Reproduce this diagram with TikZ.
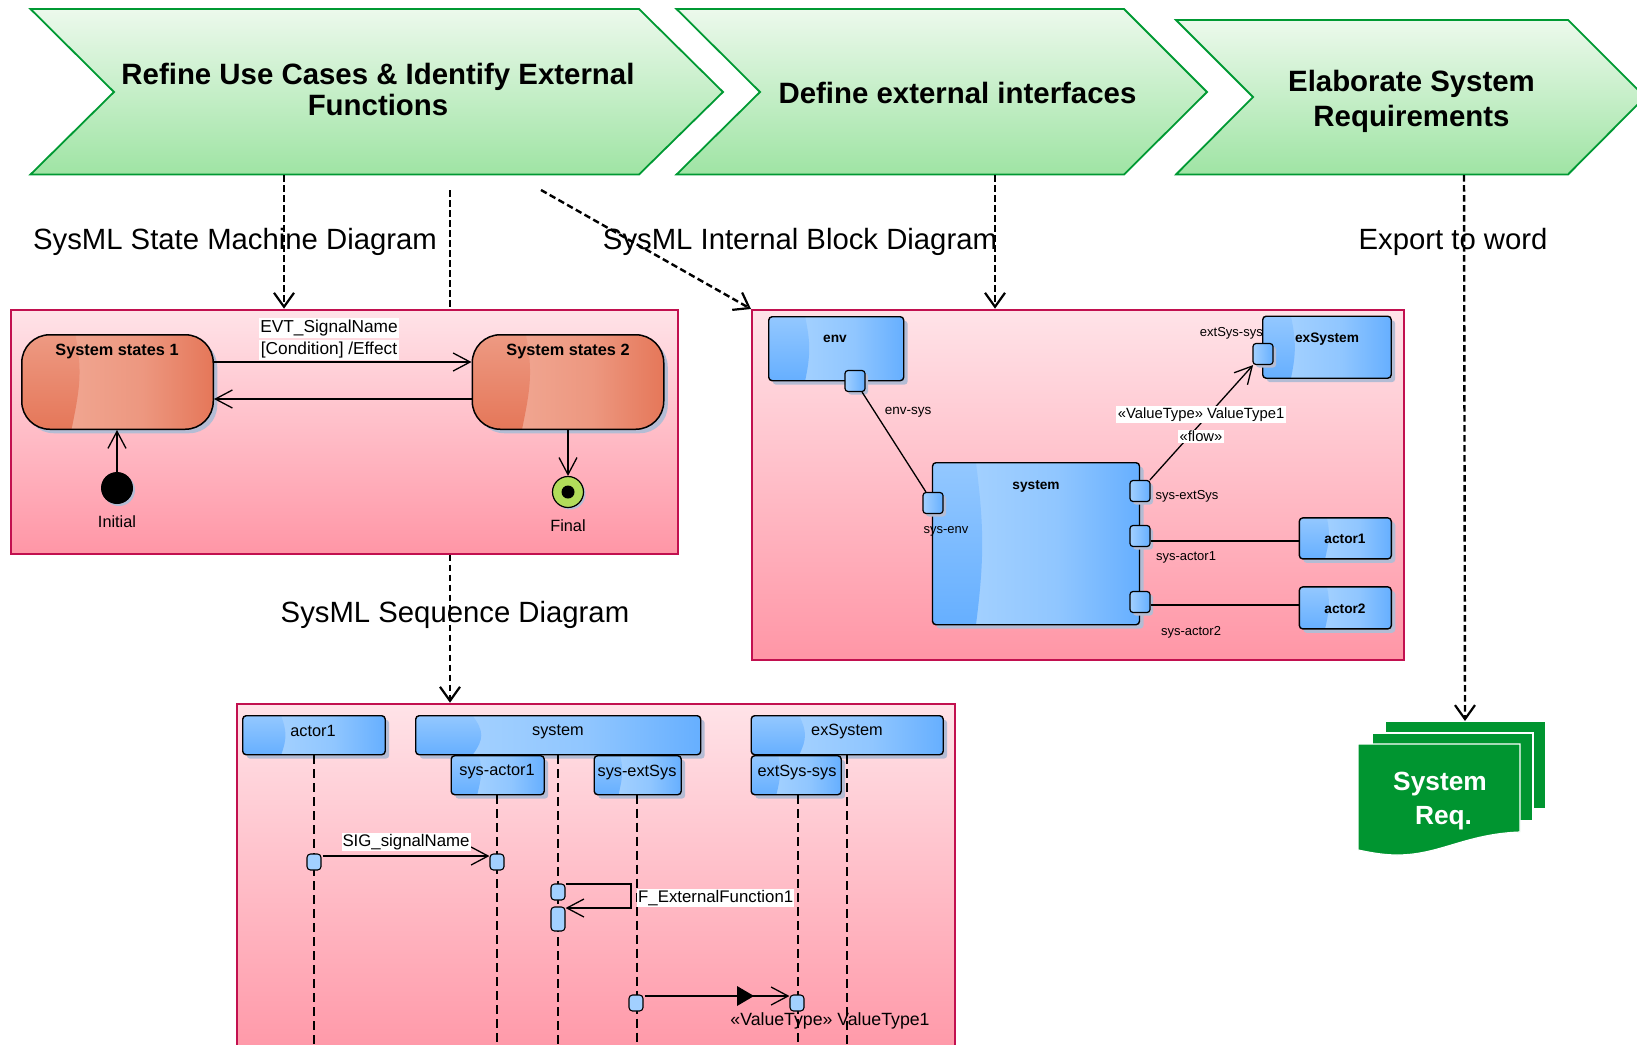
\documentclass[tikz,border=0pt]{standalone}
\usepackage{fontspec}
\setmainfont{Liberation Sans}
\usetikzlibrary{calc,shadows,arrows.meta}
\definecolor{chevtop}{HTML}{ECF9EC}
\definecolor{chevbot}{HTML}{9FE4A4}
\definecolor{chevline}{HTML}{009933}
\definecolor{frametop}{HTML}{FFE3E8}
\definecolor{framebot}{HTML}{FF96A6}
\definecolor{frameline}{HTML}{C2104F}
\definecolor{bluelight}{HTML}{A2D0FF}
\definecolor{bluedark}{HTML}{66AFFF}
\definecolor{orlight}{HTML}{F0A590}
\definecolor{ordark}{HTML}{E57759}
\definecolor{shadowc}{HTML}{B4BCD4}
\definecolor{docgreen}{HTML}{009530}
\definecolor{finalgreen}{HTML}{B2DC5A}
\tikzset{
  px/.style={x=1pt,y=-1pt},
  chevron/.style={draw=chevline,line width=1.8pt,top color=chevtop,bottom color=chevbot,line join=miter},
  chevtext/.style={font=\fontsize{29.4}{30.5}\selectfont\bfseries,align=center,inner sep=0pt},
  headline/.style={font=\fontsize{29.3}{34}\selectfont,inner sep=0pt,yshift=-3pt},
  dashconn/.style={line width=2.4pt,dash pattern=on 6.5pt off 3.5pt,-{Straight Barb[length=14pt,width=20pt,line width=2.2pt]}},
  dashplain/.style={line width=2.4pt,dash pattern=on 6.5pt off 3.5pt},
  frame/.style={draw=frameline,line width=2pt,top color=frametop,bottom color=framebot,anchor=north west,inner sep=0pt},
  gloss/.style n args={4}{path picture={
    \coordinate (nw) at (path picture bounding box.north west);
    \coordinate (ne) at (path picture bounding box.north east);
    \coordinate (sw) at (path picture bounding box.south west);
    \coordinate (se) at (path picture bounding box.south east);
    \shade[sharp corners,left color=#3,right color=#4,middle color=#3!70!#4] ($(sw)!#2!(se)$) rectangle (ne);
    \shade[sharp corners,top color=#3!75!#4,bottom color=#4] (nw) -- ($(nw)!#1!(ne)$)
       .. controls ($(nw)!.4!(sw)+($(nw)!#1+.04!(ne)-(nw)$)$) and ($(nw)!.6!(sw)+($(nw)!#2+.04!(ne)-(nw)$)$) .. ($(sw)!#2!(se)$) -- (sw) -- cycle;
  }},
  blockbox/.style 2 args={draw=black,line width=1.4pt,rounded corners=3.5pt,anchor=north west,inner sep=0pt,
    general shadow={fill=shadowc,shadow xshift=4pt,shadow yshift=-4pt},gloss={#1}{#2}{bluelight}{bluedark}},
  statebox/.style={draw=black,line width=1.5pt,rounded corners=28pt,anchor=north west,inner sep=0pt,minimum width=191.5pt,minimum height=94.5pt,
    general shadow={fill=shadowc,shadow xshift=4pt,shadow yshift=-4pt},gloss={.28}{.26}{orlight}{ordark}},
  port/.style={draw=black,line width=1.2pt,rounded corners=3pt,minimum width=20pt,minimum height=21pt,inner sep=0pt,
    general shadow={fill=shadowc,shadow xshift=3pt,shadow yshift=-3pt},left color=bluelight,right color=bluedark},
  activ/.style={draw=black,line width=1.1pt,rounded corners=3.5pt,fill=bluelight,minimum width=14pt,inner sep=0pt},
  lifeline/.style={line width=1.2pt,dash pattern=on 9pt off 5pt},
  conn/.style={line width=1.3pt},
  openarr/.style={conn,-{Straight Barb[length=17pt,width=18pt,line width=1.3pt]}},
  tbold/.style={font=\fontsize{13.7}{16}\selectfont\bfseries,inner sep=0pt,yshift=-2pt},
  tsmall/.style={font=\fontsize{13}{15}\selectfont,inner sep=0pt,yshift=-2pt},
  tval/.style={font=\fontsize{14.8}{16}\selectfont,inner sep=1.5pt,fill=white,yshift=-1.5pt},
  tseq/.style={font=\fontsize{16.3}{19}\selectfont,inner sep=0pt,yshift=-2pt},
  tmsg/.style={font=\fontsize{16.8}{21}\selectfont,inner sep=1pt,fill=white,yshift=-1pt},
  docsheet/.style={fill=docgreen,draw=white,line width=1.2pt},
}
\begin{document}
\begin{tikzpicture}[px]
\clip (0,0) rectangle (1637,1044);
% chevrons
\path[chevron] (30.5,9) -- (639,9) -- (723,92) -- (639,174.5) -- (30.5,174.5) -- (114,92) -- cycle;
\path[chevron] (676.5,9) -- (1124,9) -- (1207,92) -- (1124,174.5) -- (676.5,174.5) -- (760,92) -- cycle;
\path[chevron] (1176,20) -- (1568,20) -- (1645,97) -- (1568,174.5) -- (1176,174.5) -- (1253,97) -- cycle;
\node[chevtext] (t1) at (378,89.5) {Refine Use Cases \& Identify External\\Functions};
\node[chevtext] (t2) at (957.5,93) {Define external interfaces};
\node[chevtext,font=\fontsize{29.4}{35}\selectfont\bfseries] (t3) at (1411.5,101) {Elaborate System\\Requirements};
% free ends of the connectors
\coordinate (d1) at (284,175);
\coordinate (d2) at (450,190);
\coordinate (d3) at (541,190);
\coordinate (d4) at (995,175);
\coordinate (d5) at (1464,175);
\coordinate (d3e) at (751,309);
% frames
\draw[dashplain] (d2) -- (450,560);
\node[frame,minimum width=667.5pt,minimum height=244pt] (stateFrame) at (9.7,308.7) {};
\node[frame,minimum width=652pt,minimum height=350pt] (ibdFrame) at (750.6,308.7) {};
\node[frame,minimum width=718pt,minimum height=360pt] (seqFrame) at (235.8,702.7) {};
% connectors between process and diagrams
\draw[dashconn] (d1) -- (d1 |- stateFrame.north);
\draw[dashconn] (d3) -- (d3e);
\draw[dashconn] (d4) -- (d4 |- ibdFrame.north);
\draw[dashconn] (d2 |- stateFrame.south) -- (d2 |- seqFrame.north);
% headings
\node[headline] (h1) at (235,239) {SysML State Machine Diagram};
\node[headline] (h2) at (800,239) {SysML Internal Block Diagram};
\node[headline] (h3) at (1453,239) {Export to word};
\node[headline] (h4) at (455,612) {SysML Sequence Diagram};
% document
\path[docsheet] (1385,721) rectangle (1546,809);
\path[docsheet] (1372,733) rectangle (1533,821);
\path[docsheet] (1358,744) -- (1520,744) -- (1520,832) .. controls (1465,834) and (1440,855) .. (1397,855) .. controls (1382,855) and (1368,852) .. (1358,850) -- cycle;
\coordinate (docTop) at (1465,721);
\draw[dashconn] (d5) -- (docTop);
\node[font=\fontsize{26.3}{33.5}\selectfont\bfseries,text=white,align=center,inner sep=0pt] (docT) at (1440,801) {System\\\hspace*{7pt}Req.};
% state machine
\node[statebox] (s1) at (21,334) {};
\node[statebox] (s2) at (471.5,334) {};
\node[font=\fontsize{16.3}{19}\selectfont\bfseries,inner sep=0pt,yshift=-2pt] (s1t) at (117,349) {System states 1};
\node[font=\fontsize{16.3}{19}\selectfont\bfseries,inner sep=0pt,yshift=-2pt] (s2t) at (568,349) {System states 2};
\draw[openarr] (s1.east |- 0,362) -- (s2.west |- 0,362);
\draw[openarr] (s2.west |- 0,399) -- (s1.east |- 0,399);
\node[circle,fill=black,minimum size=32pt,inner sep=0pt,general shadow={fill=shadowc,shadow xshift=2pt,shadow yshift=-2pt}] (init) at (117,488) {};
\node[circle,draw=black,line width=1.2pt,fill=finalgreen,minimum size=31pt,inner sep=0pt,general shadow={fill=shadowc,shadow xshift=2pt,shadow yshift=-2pt}] (fin) at (568,492) {};
\node[circle,fill=black,minimum size=13pt,inner sep=0pt] (finc) at (568,492) {};
\draw[openarr] (init) -- (init |- s1.south);
\draw[openarr] (s2.south -| fin) -- (fin);
\node[tseq,yshift=1pt] (il) at (117,521) {Initial};
\node[tseq,yshift=1pt] (fl) at (568,525) {Final};
\node[tmsg,font=\fontsize{17.3}{21}\selectfont,inner sep=1.5pt] (e1) at (329,327) {EVT\_SignalName};
\node[tmsg,font=\fontsize{17.3}{21}\selectfont,inner sep=1.5pt] (e2) at (329,349) {[Condition] /Effect};
% internal block diagram
\node[blockbox={.27}{.27},minimum width=135pt,minimum height=64pt] (env) at (768,316) {};
\node[blockbox={.22}{.22},minimum width=128.5pt,minimum height=62pt] (exs) at (1262,315.5) {};
\node[blockbox={.21}{.21},minimum width=207pt,minimum height=162pt] (sys) at (931.8,462) {};
\node[blockbox={.3}{.28},minimum width=92pt,minimum height=41pt] (ac1) at (1298.6,517.2) {};
\node[blockbox={.3}{.28},minimum width=92pt,minimum height=42pt] (ac2) at (1298.6,586.2) {};
\node[port] (penv) at (855,381) {};
\node[port] (pexs) at (1263,354) {};
\node[port] (psl) at (933,503) {};
\node[port] (pse) at (1140,491) {};
\node[port] (psa1) at (1140,536) {};
\node[port] (psa2) at (1140,602) {};
\draw[conn] (penv) -- (psl);
\draw[openarr] (pse) -- (pexs);
\draw[conn] (psa1.east |- 0,541) -- (ac1.west |- 0,541);
\draw[conn] (psa2.east |- 0,605) -- (ac2.west |- 0,605);
\node[tbold] (tenv) at (835,337) {env};
\node[tbold] (texs) at (1327,337) {exSystem};
\node[tbold] (tsys) at (1036,484) {system};
\node[tbold] (tac1) at (1345,537) {actor1};
\node[tbold] (tac2) at (1345,607) {actor2};
\node[tsmall,font=\fontsize{13.5}{15}\selectfont] (l1) at (908,410) {env-sys};
\node[tsmall,anchor=east] (l2) at (1263,331) {extSys-sys};
\node[tsmall] (l3) at (946,529) {sys-env};
\node[tsmall] (l4) at (1187,494) {sys-extSys};
\node[tsmall] (l5) at (1186,555) {sys-actor1};
\node[tsmall] (l6) at (1191,630) {sys-actor2};
\node[tval] (v1) at (1201,413) {«ValueType» ValueType1};
\node[tval] (v2) at (1201,435) {«flow»};
% sequence diagram
\coordinate (b1) at (314,1050);
\coordinate (b2) at (497,1050);
\coordinate (b3) at (558,1050);
\coordinate (b4) at (637,1050);
\coordinate (b5) at (798,1050);
\coordinate (b6) at (847,1050);
\node[blockbox={.27}{.27},minimum width=142.5pt,minimum height=39pt] (ha) at (242,715) {};
\node[blockbox={.2}{.2},minimum width=285pt,minimum height=39pt] (hs) at (415,715) {};
\node[blockbox={.25}{.25},minimum width=192pt,minimum height=39pt] (he) at (750.5,715) {};
\draw[lifeline] (b1 |- ha.south) -- (b1);
\draw[lifeline] (b3 |- hs.south) -- (b3);
\draw[lifeline] (b6 |- he.south) -- (b6);
\node[blockbox={.3}{.28},minimum width=93pt,minimum height=39pt] (sa) at (450.5,755) {};
\node[blockbox={.3}{.28},minimum width=87pt,minimum height=39pt] (se) at (593.5,755) {};
\node[blockbox={.3}{.28},minimum width=90pt,minimum height=39pt] (es) at (750.5,755) {};
\draw[lifeline] (b2 |- sa.south) -- (b2);
\draw[lifeline] (b4 |- se.south) -- (b4);
\draw[lifeline] (b5 |- es.south) -- (b5);
\node[tseq,yshift=1pt] (tha) at (313,730) {actor1};
\node[tseq] (ths) at (558,730) {system};
\node[tseq,yshift=1pt] (the) at (847,730) {exSystem};
\node[tseq,yshift=-1pt] (tsa) at (497,769) {sys-actor1};
\node[tseq,yshift=-1pt] (tse) at (637,769) {sys-extSys};
\node[tseq,yshift=-1pt] (tes) at (797,769) {extSys-sys};
\node[activ,minimum height=16pt] (a1) at (314,862) {};
\node[activ,minimum height=16pt] (a2) at (497,862) {};
\node[activ,minimum height=16pt] (a3) at (558,892) {};
\node[activ,minimum height=24pt] (a4) at (558,919) {};
\node[activ,minimum height=16pt] (a5) at (636,1003) {};
\node[activ,minimum height=16pt] (a6) at (797,1003) {};
\draw[openarr] (a1.east |- 0,856) ++(1,0) -- (a2.west |- 0,856);
\draw[openarr] (a3.east |- 0,884) -- (631,884) -- (631,908) -- (a4.east |- 0,908);
\draw[openarr] (a5.east |- 0,996) ++(1,0) -- (a6.west |- 0,996);
\fill[black] (737,986) -- (754,996) -- (737,1006) -- cycle;
\node[tmsg] (m1) at (406,841) {SIG\_signalName};
\node[tmsg,anchor=west] (m2) at (637,897) {F\_ExternalFunction1};
\node[tmsg,fill=none,font=\fontsize{17.7}{21}\selectfont] (m3) at (830,1020) {«ValueType» ValueType1};
\end{tikzpicture}
\end{document}
